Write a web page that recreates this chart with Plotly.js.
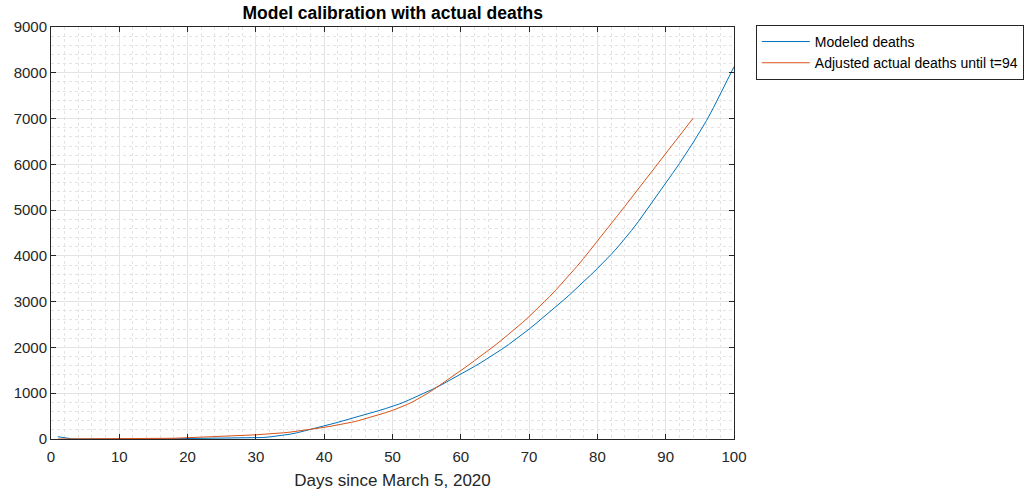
<!DOCTYPE html>
<html>
<head>
<meta charset="utf-8">
<script src="https://cdn.plot.ly/plotly-3.0.1.min.js"></script>
<style>html,body{margin:0;padding:0;background:#fff;}#chart{width:1032px;height:494px;}</style>
</head>
<body>
<div id="chart"></div>
<script>
// Days for each series
const modeledDays = [];
for (let d = 1; d <= 100; d++) modeledDays.push(d);
const actualDays = [];
for (let d = 1; d <= 94; d++) actualDays.push(d);

// Modeled deaths (days 1..100)
const modeledDeaths = [
  50, 20, 5, 2, 1, 0, 0, 0, 0, 0,
  0, 0, 0, 1, 2, 3, 5, 7, 9, 10,
  11, 12, 12, 12, 12, 12, 13, 14, 16, 22,
  32, 45, 62, 82, 105, 135, 170, 210, 245, 285,
  325, 365, 405, 450, 495, 540, 580, 620, 665, 710,
  765, 825, 890, 955, 1025, 1095, 1170, 1250, 1335, 1420,
  1500, 1585, 1673, 1765, 1860, 1960, 2063, 2170, 2282, 2400,
  2522, 2645, 2770, 2898, 3028, 3160, 3295, 3435, 3580, 3725,
  3870, 4030, 4195, 4370, 4555, 4750, 4955, 5165, 5375, 5585,
  5800, 6015, 6235, 6470, 6715, 6960, 7240, 7530, 7830, 8130
];

// Adjusted actual deaths (days 1..94)
const actualDeaths = [
  0, 0, 0, 0, 0, 0, 0, 0, 0, 0,
  0, 0, 1, 2, 4, 7, 11, 16, 22, 30,
  36, 42, 48, 54, 60, 66, 72, 78, 85, 92,
  100, 110, 122, 135, 150, 168, 188, 210, 232, 255,
  280, 305, 335, 365, 400, 440, 482, 527, 575, 625,
  682, 745, 815, 895, 985, 1080, 1180, 1282, 1386, 1492,
  1600, 1710, 1818, 1930, 2045, 2163, 2285, 2410, 2540, 2675,
  2815, 2960, 3110, 3268, 3430, 3598, 3770, 3948, 4132, 4320,
  4510, 4700, 4890, 5080, 5270, 5460, 5650, 5840, 6030, 6220,
  6415, 6610, 6805, 7005
];

const seriesNames = ["Modeled deaths", "Adjusted actual deaths until t=94"];
const xTicks = [0, 10, 20, 30, 40, 50, 60, 70, 80, 90, 100];
const yTicks = [0, 1000, 2000, 3000, 4000, 5000, 6000, 7000, 8000, 9000];

const FONT = "Liberation Sans, Arial, Helvetica, sans-serif";
const AX = "#262626";

const traces = [
  {x: modeledDays, y: modeledDeaths, name: seriesNames[0], type: "scatter", mode: "lines",
   line: {color: "#0072BD", width: 1}},
  {x: actualDays, y: actualDeaths, name: seriesNames[1], type: "scatter", mode: "lines",
   line: {color: "#D95319", width: 1}}
];

const axisCommon = {
  showline: true, linecolor: AX, linewidth: 1, mirror: "ticks",
  ticks: "inside", ticklen: 5, tickcolor: AX, tickwidth: 1,
  showgrid: true, gridcolor: "#e3e3e3", gridwidth: 1,
  zeroline: false, tickfont: {family: FONT, size: 15, color: AX}
};

const layout = {
  width: 1032, height: 494,
  margin: {l: 51, r: 298, t: 27, b: 55, autoexpand: false},
  paper_bgcolor: "#ffffff", plot_bgcolor: "#ffffff",
  title: {text: "<b>Model calibration with actual deaths</b>", x: 0.3805, xanchor: "center",
          y: 0.973, yanchor: "middle", font: {family: FONT, size: 17.5, color: "#000"}},
  xaxis: Object.assign({}, axisCommon, {
    range: [0, 100], tickvals: xTicks, ticktext: xTicks.map(String),
    ticklabelstandoff: 4, automargin: false,
    minor: {dtick: 2, tick0: 0, showgrid: true, gridcolor: "#e3e3e3", griddash: "dot", gridwidth: 1},
    title: {text: "Days since March 5, 2020", font: {family: FONT, size: 17, color: AX}, standoff: 10}
  }),
  yaxis: Object.assign({}, axisCommon, {
    range: [0, 9000], tickvals: yTicks, ticktext: yTicks.map(String), automargin: false,
    minor: {dtick: 200, tick0: 0, showgrid: true, gridcolor: "#e3e3e3", griddash: "dot", gridwidth: 1}
  }),
  showlegend: true,
  legend: {x: 1.032, xanchor: "left", y: 1.005, yanchor: "top",
           bgcolor: "#ffffff", bordercolor: "#262626", borderwidth: 1,
           font: {family: FONT, size: 14, color: "#000"}, itemwidth: 48,
           tracegroupgap: 0}
};

Plotly.newPlot("chart", traces, layout, {staticPlot: true, displayModeBar: false});
</script>
</body>
</html>
